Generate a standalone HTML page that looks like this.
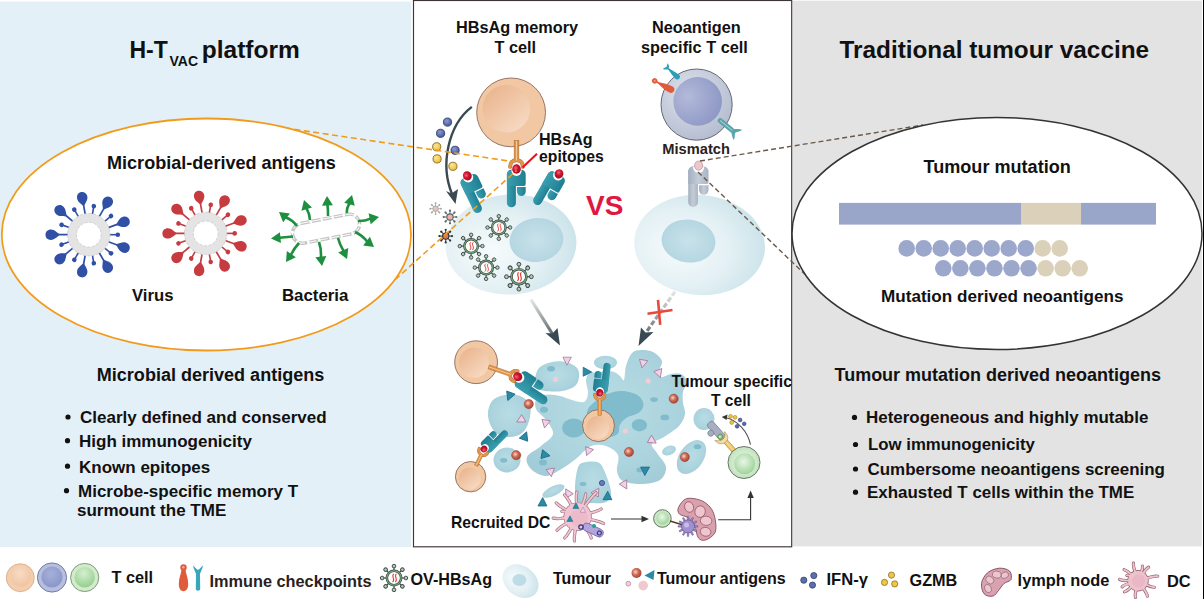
<!DOCTYPE html>
<html><head><meta charset="utf-8">
<style>
html,body{margin:0;padding:0;background:#fff;}
body{width:1204px;height:599px;overflow:hidden;position:relative;}
svg{position:absolute;left:0;top:0;}
text{font-family:"Liberation Sans",sans-serif;font-weight:bold;fill:#111;}
</style></head><body>
<svg width="1204" height="599" viewBox="0 0 1204 599">
<defs>
<linearGradient id="gPeachN" x1="0.15" y1="0.1" x2="0.8" y2="0.9"><stop offset="0" stop-color="#ebb690"/><stop offset="1" stop-color="#f6d8c0"/></linearGradient>
<radialGradient id="gPeachO" cx="0.5" cy="0.5" r="0.5"><stop offset="0.7" stop-color="#f3cca9"/><stop offset="1" stop-color="#efc29d"/></radialGradient>
<radialGradient id="gTum" cx="0.35" cy="0.55" r="0.65"><stop offset="0" stop-color="#f7fbfc"/><stop offset="0.6" stop-color="#e3f0f4"/><stop offset="1" stop-color="#cde4eb"/></radialGradient>
<radialGradient id="gTumN" cx="0.5" cy="0.5" r="0.5"><stop offset="0" stop-color="#c8e2ea"/><stop offset="1" stop-color="#b5d6e1"/></radialGradient>
<radialGradient id="gBlueO" cx="0.4" cy="0.35" r="0.7"><stop offset="0" stop-color="#dfe3ec"/><stop offset="1" stop-color="#b3bbcf"/></radialGradient>
<radialGradient id="gBlueN" cx="0.3" cy="0.4" r="0.7"><stop offset="0" stop-color="#b3b9d9"/><stop offset="1" stop-color="#8f99c6"/></radialGradient>
<radialGradient id="gGreenO" cx="0.5" cy="0.5" r="0.5"><stop offset="0.6" stop-color="#d5ecd0"/><stop offset="1" stop-color="#c2e2bd"/></radialGradient>
<radialGradient id="gGreenN" cx="0.45" cy="0.4" r="0.6"><stop offset="0" stop-color="#e9f6e6"/><stop offset="1" stop-color="#9ed49a"/></radialGradient>
<linearGradient id="gTeal" x1="0" y1="0" x2="1" y2="0"><stop offset="0" stop-color="#3b9fb0"/><stop offset="1" stop-color="#1f7f92"/></linearGradient>
<radialGradient id="gRed" cx="0.4" cy="0.4" r="0.6"><stop offset="0" stop-color="#f06a7a"/><stop offset="0.5" stop-color="#d0122f"/><stop offset="1" stop-color="#a80c22"/></radialGradient>
<radialGradient id="gAg" cx="0.4" cy="0.4" r="0.6"><stop offset="0" stop-color="#f4d7cc"/><stop offset="0.5" stop-color="#d06a55"/><stop offset="1" stop-color="#a84534"/></radialGradient>
<linearGradient id="gArr" x1="0" y1="0" x2="0" y2="1"><stop offset="0" stop-color="#e8e8e8"/><stop offset="1" stop-color="#5f676c"/></linearGradient><radialGradient id="gLegP" cx="0.45" cy="0.35" r="0.7"><stop offset="0" stop-color="#f8dcc6"/><stop offset="1" stop-color="#f0c29e"/></radialGradient><radialGradient id="gLegB" cx="0.45" cy="0.35" r="0.7"><stop offset="0" stop-color="#a6b0da"/><stop offset="1" stop-color="#8794c6"/></radialGradient><radialGradient id="gLegG" cx="0.45" cy="0.3" r="0.7"><stop offset="0" stop-color="#d6efd0"/><stop offset="1" stop-color="#94cf8e"/></radialGradient><linearGradient id="gGreyM" x1="0" y1="0" x2="1" y2="0"><stop offset="0" stop-color="#a4aebf"/><stop offset="0.5" stop-color="#c4ccd8"/><stop offset="1" stop-color="#aab4c4"/></linearGradient><radialGradient id="gDotB" cx="0.4" cy="0.35" r="0.65"><stop offset="0" stop-color="#8a9ad0"/><stop offset="1" stop-color="#44589e"/></radialGradient><radialGradient id="gDotY" cx="0.4" cy="0.35" r="0.65"><stop offset="0" stop-color="#fbe7a0"/><stop offset="1" stop-color="#eebd30"/></radialGradient><radialGradient id="gMass" cx="0.5" cy="0.45" r="0.6"><stop offset="0" stop-color="#b8dce4"/><stop offset="0.7" stop-color="#acd4de"/><stop offset="1" stop-color="#a2ccd7"/></radialGradient>
</defs>
<rect x="0" y="1.5" width="411.3" height="545.5" fill="#e4f0f8"/>
<rect x="792.5" y="0.7" width="409.3" height="545.7" fill="#e3e3e3"/>
<rect x="413.5" y="0.5" width="378.2" height="546.3" fill="#fff" stroke="#3e3636" stroke-width="1.15"/>
<rect x="1203" y="0" width="1" height="599" fill="#000"/>
<g id="gc"><ellipse cx="511" cy="244.5" rx="65.5" ry="50" fill="url(#gTum)" transform="rotate(-4 511 244.5)"/><ellipse cx="536.5" cy="240" rx="27" ry="22" fill="url(#gTumN)" transform="rotate(-8 536.5 240)"/><ellipse cx="699.6" cy="245" rx="65.5" ry="50" fill="url(#gTum)" transform="rotate(5 699.6 245)"/><ellipse cx="688.5" cy="241" rx="27" ry="21.5" fill="url(#gTumN)" transform="rotate(8 688.5 241)"/><g transform="translate(498.8,227.5) scale(1.0)"><g transform="rotate(0)"><rect x="6.5" y="-0.55" width="3.6" height="1.1" fill="#3e4a45"/><circle cx="11.3" cy="0" r="1.75" fill="#b4c8b8" stroke="#3e4a45" stroke-width="0.9"/></g><g transform="rotate(45)"><rect x="6.5" y="-0.55" width="3.6" height="1.1" fill="#3e4a45"/><circle cx="11.3" cy="0" r="1.75" fill="#b4c8b8" stroke="#3e4a45" stroke-width="0.9"/></g><g transform="rotate(90)"><rect x="6.5" y="-0.55" width="3.6" height="1.1" fill="#3e4a45"/><circle cx="11.3" cy="0" r="1.75" fill="#b4c8b8" stroke="#3e4a45" stroke-width="0.9"/></g><g transform="rotate(135)"><rect x="6.5" y="-0.55" width="3.6" height="1.1" fill="#3e4a45"/><circle cx="11.3" cy="0" r="1.75" fill="#b4c8b8" stroke="#3e4a45" stroke-width="0.9"/></g><g transform="rotate(180)"><rect x="6.5" y="-0.55" width="3.6" height="1.1" fill="#3e4a45"/><circle cx="11.3" cy="0" r="1.75" fill="#b4c8b8" stroke="#3e4a45" stroke-width="0.9"/></g><g transform="rotate(225)"><rect x="6.5" y="-0.55" width="3.6" height="1.1" fill="#3e4a45"/><circle cx="11.3" cy="0" r="1.75" fill="#b4c8b8" stroke="#3e4a45" stroke-width="0.9"/></g><g transform="rotate(270)"><rect x="6.5" y="-0.55" width="3.6" height="1.1" fill="#3e4a45"/><circle cx="11.3" cy="0" r="1.75" fill="#b4c8b8" stroke="#3e4a45" stroke-width="0.9"/></g><g transform="rotate(315)"><rect x="6.5" y="-0.55" width="3.6" height="1.1" fill="#3e4a45"/><circle cx="11.3" cy="0" r="1.75" fill="#b4c8b8" stroke="#3e4a45" stroke-width="0.9"/></g><circle r="6.8" fill="#fff" stroke="#3e4a45" stroke-width="2.4"/><circle r="6.8" fill="none" stroke="#74a882" stroke-width="1.1"/><path d="M-0.2,-3.9 C-3.2,-1.9 1.8,1.1 -1.3,3.9 M2.3,-3.9 C-0.6,-1.9 4.3,1.1 1.3,3.9" fill="none" stroke="#e23a32" stroke-width="1"/></g><g transform="translate(471.1,246.1) scale(1.0)"><g transform="rotate(0)"><rect x="6.5" y="-0.55" width="3.6" height="1.1" fill="#3e4a45"/><circle cx="11.3" cy="0" r="1.75" fill="#b4c8b8" stroke="#3e4a45" stroke-width="0.9"/></g><g transform="rotate(45)"><rect x="6.5" y="-0.55" width="3.6" height="1.1" fill="#3e4a45"/><circle cx="11.3" cy="0" r="1.75" fill="#b4c8b8" stroke="#3e4a45" stroke-width="0.9"/></g><g transform="rotate(90)"><rect x="6.5" y="-0.55" width="3.6" height="1.1" fill="#3e4a45"/><circle cx="11.3" cy="0" r="1.75" fill="#b4c8b8" stroke="#3e4a45" stroke-width="0.9"/></g><g transform="rotate(135)"><rect x="6.5" y="-0.55" width="3.6" height="1.1" fill="#3e4a45"/><circle cx="11.3" cy="0" r="1.75" fill="#b4c8b8" stroke="#3e4a45" stroke-width="0.9"/></g><g transform="rotate(180)"><rect x="6.5" y="-0.55" width="3.6" height="1.1" fill="#3e4a45"/><circle cx="11.3" cy="0" r="1.75" fill="#b4c8b8" stroke="#3e4a45" stroke-width="0.9"/></g><g transform="rotate(225)"><rect x="6.5" y="-0.55" width="3.6" height="1.1" fill="#3e4a45"/><circle cx="11.3" cy="0" r="1.75" fill="#b4c8b8" stroke="#3e4a45" stroke-width="0.9"/></g><g transform="rotate(270)"><rect x="6.5" y="-0.55" width="3.6" height="1.1" fill="#3e4a45"/><circle cx="11.3" cy="0" r="1.75" fill="#b4c8b8" stroke="#3e4a45" stroke-width="0.9"/></g><g transform="rotate(315)"><rect x="6.5" y="-0.55" width="3.6" height="1.1" fill="#3e4a45"/><circle cx="11.3" cy="0" r="1.75" fill="#b4c8b8" stroke="#3e4a45" stroke-width="0.9"/></g><circle r="6.8" fill="#fff" stroke="#3e4a45" stroke-width="2.4"/><circle r="6.8" fill="none" stroke="#74a882" stroke-width="1.1"/><path d="M-0.2,-3.9 C-3.2,-1.9 1.8,1.1 -1.3,3.9 M2.3,-3.9 C-0.6,-1.9 4.3,1.1 1.3,3.9" fill="none" stroke="#e23a32" stroke-width="1"/></g><g transform="translate(486.1,267.6) scale(1.0)"><g transform="rotate(0)"><rect x="6.5" y="-0.55" width="3.6" height="1.1" fill="#3e4a45"/><circle cx="11.3" cy="0" r="1.75" fill="#b4c8b8" stroke="#3e4a45" stroke-width="0.9"/></g><g transform="rotate(45)"><rect x="6.5" y="-0.55" width="3.6" height="1.1" fill="#3e4a45"/><circle cx="11.3" cy="0" r="1.75" fill="#b4c8b8" stroke="#3e4a45" stroke-width="0.9"/></g><g transform="rotate(90)"><rect x="6.5" y="-0.55" width="3.6" height="1.1" fill="#3e4a45"/><circle cx="11.3" cy="0" r="1.75" fill="#b4c8b8" stroke="#3e4a45" stroke-width="0.9"/></g><g transform="rotate(135)"><rect x="6.5" y="-0.55" width="3.6" height="1.1" fill="#3e4a45"/><circle cx="11.3" cy="0" r="1.75" fill="#b4c8b8" stroke="#3e4a45" stroke-width="0.9"/></g><g transform="rotate(180)"><rect x="6.5" y="-0.55" width="3.6" height="1.1" fill="#3e4a45"/><circle cx="11.3" cy="0" r="1.75" fill="#b4c8b8" stroke="#3e4a45" stroke-width="0.9"/></g><g transform="rotate(225)"><rect x="6.5" y="-0.55" width="3.6" height="1.1" fill="#3e4a45"/><circle cx="11.3" cy="0" r="1.75" fill="#b4c8b8" stroke="#3e4a45" stroke-width="0.9"/></g><g transform="rotate(270)"><rect x="6.5" y="-0.55" width="3.6" height="1.1" fill="#3e4a45"/><circle cx="11.3" cy="0" r="1.75" fill="#b4c8b8" stroke="#3e4a45" stroke-width="0.9"/></g><g transform="rotate(315)"><rect x="6.5" y="-0.55" width="3.6" height="1.1" fill="#3e4a45"/><circle cx="11.3" cy="0" r="1.75" fill="#b4c8b8" stroke="#3e4a45" stroke-width="0.9"/></g><circle r="6.8" fill="#fff" stroke="#3e4a45" stroke-width="2.4"/><circle r="6.8" fill="none" stroke="#74a882" stroke-width="1.1"/><path d="M-0.2,-3.9 C-3.2,-1.9 1.8,1.1 -1.3,3.9 M2.3,-3.9 C-0.6,-1.9 4.3,1.1 1.3,3.9" fill="none" stroke="#e23a32" stroke-width="1"/></g><g transform="translate(518.9,276.7) scale(1.1)"><g transform="rotate(0)"><rect x="6.5" y="-0.55" width="3.6" height="1.1" fill="#3e4a45"/><circle cx="11.3" cy="0" r="1.75" fill="#b4c8b8" stroke="#3e4a45" stroke-width="0.9"/></g><g transform="rotate(45)"><rect x="6.5" y="-0.55" width="3.6" height="1.1" fill="#3e4a45"/><circle cx="11.3" cy="0" r="1.75" fill="#b4c8b8" stroke="#3e4a45" stroke-width="0.9"/></g><g transform="rotate(90)"><rect x="6.5" y="-0.55" width="3.6" height="1.1" fill="#3e4a45"/><circle cx="11.3" cy="0" r="1.75" fill="#b4c8b8" stroke="#3e4a45" stroke-width="0.9"/></g><g transform="rotate(135)"><rect x="6.5" y="-0.55" width="3.6" height="1.1" fill="#3e4a45"/><circle cx="11.3" cy="0" r="1.75" fill="#b4c8b8" stroke="#3e4a45" stroke-width="0.9"/></g><g transform="rotate(180)"><rect x="6.5" y="-0.55" width="3.6" height="1.1" fill="#3e4a45"/><circle cx="11.3" cy="0" r="1.75" fill="#b4c8b8" stroke="#3e4a45" stroke-width="0.9"/></g><g transform="rotate(225)"><rect x="6.5" y="-0.55" width="3.6" height="1.1" fill="#3e4a45"/><circle cx="11.3" cy="0" r="1.75" fill="#b4c8b8" stroke="#3e4a45" stroke-width="0.9"/></g><g transform="rotate(270)"><rect x="6.5" y="-0.55" width="3.6" height="1.1" fill="#3e4a45"/><circle cx="11.3" cy="0" r="1.75" fill="#b4c8b8" stroke="#3e4a45" stroke-width="0.9"/></g><g transform="rotate(315)"><rect x="6.5" y="-0.55" width="3.6" height="1.1" fill="#3e4a45"/><circle cx="11.3" cy="0" r="1.75" fill="#b4c8b8" stroke="#3e4a45" stroke-width="0.9"/></g><circle r="6.8" fill="#fff" stroke="#3e4a45" stroke-width="2.4"/><circle r="6.8" fill="none" stroke="#74a882" stroke-width="1.1"/><path d="M-0.2,-3.9 C-3.2,-1.9 1.8,1.1 -1.3,3.9 M2.3,-3.9 C-0.6,-1.9 4.3,1.1 1.3,3.9" fill="none" stroke="#e23a32" stroke-width="1"/></g><g transform="translate(435.6,208.7) scale(0.6)"><g transform="rotate(0)"><rect x="4" y="-0.7" width="4.5" height="1.4" fill="#a0aaa6"/><circle cx="9" r="1.6" fill="#a0aaa6"/></g><g transform="rotate(45)"><rect x="4" y="-0.7" width="4.5" height="1.4" fill="#a0aaa6"/><circle cx="9" r="1.6" fill="#a0aaa6"/></g><g transform="rotate(90)"><rect x="4" y="-0.7" width="4.5" height="1.4" fill="#a0aaa6"/><circle cx="9" r="1.6" fill="#a0aaa6"/></g><g transform="rotate(135)"><rect x="4" y="-0.7" width="4.5" height="1.4" fill="#a0aaa6"/><circle cx="9" r="1.6" fill="#a0aaa6"/></g><g transform="rotate(180)"><rect x="4" y="-0.7" width="4.5" height="1.4" fill="#a0aaa6"/><circle cx="9" r="1.6" fill="#a0aaa6"/></g><g transform="rotate(225)"><rect x="4" y="-0.7" width="4.5" height="1.4" fill="#a0aaa6"/><circle cx="9" r="1.6" fill="#a0aaa6"/></g><g transform="rotate(270)"><rect x="4" y="-0.7" width="4.5" height="1.4" fill="#a0aaa6"/><circle cx="9" r="1.6" fill="#a0aaa6"/></g><g transform="rotate(315)"><rect x="4" y="-0.7" width="4.5" height="1.4" fill="#a0aaa6"/><circle cx="9" r="1.6" fill="#a0aaa6"/></g><circle r="4.5" fill="#f0c0c0" stroke="#a0aaa6" stroke-width="1.6"/></g><g transform="translate(450,217) scale(0.7)"><g transform="rotate(0)"><rect x="4" y="-0.7" width="4.5" height="1.4" fill="#5a6a64"/><circle cx="9" r="1.6" fill="#5a6a64"/></g><g transform="rotate(45)"><rect x="4" y="-0.7" width="4.5" height="1.4" fill="#5a6a64"/><circle cx="9" r="1.6" fill="#5a6a64"/></g><g transform="rotate(90)"><rect x="4" y="-0.7" width="4.5" height="1.4" fill="#5a6a64"/><circle cx="9" r="1.6" fill="#5a6a64"/></g><g transform="rotate(135)"><rect x="4" y="-0.7" width="4.5" height="1.4" fill="#5a6a64"/><circle cx="9" r="1.6" fill="#5a6a64"/></g><g transform="rotate(180)"><rect x="4" y="-0.7" width="4.5" height="1.4" fill="#5a6a64"/><circle cx="9" r="1.6" fill="#5a6a64"/></g><g transform="rotate(225)"><rect x="4" y="-0.7" width="4.5" height="1.4" fill="#5a6a64"/><circle cx="9" r="1.6" fill="#5a6a64"/></g><g transform="rotate(270)"><rect x="4" y="-0.7" width="4.5" height="1.4" fill="#5a6a64"/><circle cx="9" r="1.6" fill="#5a6a64"/></g><g transform="rotate(315)"><rect x="4" y="-0.7" width="4.5" height="1.4" fill="#5a6a64"/><circle cx="9" r="1.6" fill="#5a6a64"/></g><circle r="4.5" fill="#eeb0b0" stroke="#5a6a64" stroke-width="1.6"/></g><g transform="translate(445.7,236.1) scale(0.7)"><g transform="rotate(0)"><rect x="4" y="-0.7" width="4.5" height="1.4" fill="#333"/><circle cx="9" r="1.6" fill="#333"/></g><g transform="rotate(45)"><rect x="4" y="-0.7" width="4.5" height="1.4" fill="#333"/><circle cx="9" r="1.6" fill="#333"/></g><g transform="rotate(90)"><rect x="4" y="-0.7" width="4.5" height="1.4" fill="#333"/><circle cx="9" r="1.6" fill="#333"/></g><g transform="rotate(135)"><rect x="4" y="-0.7" width="4.5" height="1.4" fill="#333"/><circle cx="9" r="1.6" fill="#333"/></g><g transform="rotate(180)"><rect x="4" y="-0.7" width="4.5" height="1.4" fill="#333"/><circle cx="9" r="1.6" fill="#333"/></g><g transform="rotate(225)"><rect x="4" y="-0.7" width="4.5" height="1.4" fill="#333"/><circle cx="9" r="1.6" fill="#333"/></g><g transform="rotate(270)"><rect x="4" y="-0.7" width="4.5" height="1.4" fill="#333"/><circle cx="9" r="1.6" fill="#333"/></g><g transform="rotate(315)"><rect x="4" y="-0.7" width="4.5" height="1.4" fill="#333"/><circle cx="9" r="1.6" fill="#333"/></g><circle r="4.5" fill="#e07a4a" stroke="#333" stroke-width="1.6"/></g><circle cx="511.1" cy="112.4" r="34.4" fill="#f2c7a3" stroke="#8a6a5a" stroke-width="0.9"/><circle cx="506.28" cy="108.79" r="23.8" fill="url(#gPeachN)"/><g transform="translate(516.5,169.4) rotate(0) scale(0.9)"><path d="M0,-10.5 C-3.5,-10 -7,-9 -7,-3 M0,-10.5 C3.5,-10 7,-9 7,-3" fill="none" stroke="#b06a2a" stroke-width="4.4" stroke-linecap="round"/><rect x="-2.6" y="-32" width="5.2" height="23" fill="#e0964a" stroke="#b06a2a" stroke-width="0.6"/><path d="M0,-10.5 C-3.5,-10 -7,-9 -7,-3 M0,-10.5 C3.5,-10 7,-9 7,-3" fill="none" stroke="#e0964a" stroke-width="3.4" stroke-linecap="round"/><line x1="0" y1="-31.5" x2="0" y2="-10" stroke="#f8d2a8" stroke-width="0.9"/></g><g transform="translate(467.7,176.5) rotate(-25.6) scale(1.0)"><rect x="-9.6" y="0" width="9" height="37.5" rx="4.4" fill="url(#gTeal)"/><path d="M-9.6,4.5 A4.5,4.5 0 0 1 -5.1,0 L4.7,0 A4.5,4.5 0 0 1 9.2,4.5 L9.2,14.5 A1.8,1.8 0 0 1 7.4,16.3 L-9.6,16.3 Z" fill="url(#gTeal)"/><path d="M0.4,17.3 L9.2,17.3 L9.2,21.8 A4.4,4.4 0 0 1 4.8,26.2 A4.4,4.4 0 0 1 0.4,21.8 Z" fill="url(#gTeal)"/><path d="M-5.2,0.5 A5.2,5.6 0 0 0 5.2,0.5 Z" fill="#fff"/><ellipse cx="0" cy="-0.8" rx="4.324000000000001" ry="4.7" fill="url(#gRed)"/></g><g transform="translate(516.5,169.8) rotate(0) scale(1.0)"><rect x="-9.6" y="0" width="9" height="37.5" rx="4.4" fill="url(#gTeal)"/><path d="M-9.6,4.5 A4.5,4.5 0 0 1 -5.1,0 L4.7,0 A4.5,4.5 0 0 1 9.2,4.5 L9.2,14.5 A1.8,1.8 0 0 1 7.4,16.3 L-9.6,16.3 Z" fill="url(#gTeal)"/><path d="M0.4,17.3 L9.2,17.3 L9.2,21.8 A4.4,4.4 0 0 1 4.8,26.2 A4.4,4.4 0 0 1 0.4,21.8 Z" fill="url(#gTeal)"/><path d="M-5.2,0.5 A5.2,5.6 0 0 0 5.2,0.5 Z" fill="#fff"/><ellipse cx="0" cy="-0.8" rx="4.324000000000001" ry="4.7" fill="url(#gRed)"/></g><g transform="translate(558.6,174.5) rotate(30) scale(1.0)"><rect x="-9.6" y="0" width="9" height="37.5" rx="4.4" fill="url(#gTeal)"/><path d="M-9.6,4.5 A4.5,4.5 0 0 1 -5.1,0 L4.7,0 A4.5,4.5 0 0 1 9.2,4.5 L9.2,14.5 A1.8,1.8 0 0 1 7.4,16.3 L-9.6,16.3 Z" fill="url(#gTeal)"/><path d="M0.4,17.3 L9.2,17.3 L9.2,21.8 A4.4,4.4 0 0 1 4.8,26.2 A4.4,4.4 0 0 1 0.4,21.8 Z" fill="url(#gTeal)"/><path d="M-5.2,0.5 A5.2,5.6 0 0 0 5.2,0.5 Z" fill="#fff"/><ellipse cx="0" cy="-0.8" rx="4.324000000000001" ry="4.7" fill="url(#gRed)"/></g><line x1="522.5" y1="167.4" x2="537" y2="153.8" stroke="#e8101e" stroke-width="2"/><circle cx="447.5" cy="122.1" r="4.1" fill="url(#gDotB)" stroke="#2a3560" stroke-width="0.8"/><circle cx="440.6" cy="133.3" r="4.1" fill="url(#gDotB)" stroke="#2a3560" stroke-width="0.8"/><circle cx="455.1" cy="150.3" r="4.1" fill="url(#gDotB)" stroke="#2a3560" stroke-width="0.8"/><circle cx="436.7" cy="146.8" r="4.1" fill="url(#gDotY)" stroke="#7a6020" stroke-width="0.8"/><circle cx="437.1" cy="158.9" r="4.1" fill="url(#gDotY)" stroke="#7a6020" stroke-width="0.8"/><circle cx="452.9" cy="166.3" r="4.1" fill="url(#gDotY)" stroke="#7a6020" stroke-width="0.8"/><path d="M471.8,106.9 C448,125 440,165 452,194" fill="none" stroke="#3b4a52" stroke-width="2.4"/><path d="M455.5,204 L446,191 L451.5,193.5 L458,189 Z" fill="#3b4a52"/><circle cx="696.6" cy="104.6" r="35.6" fill="url(#gBlueO)" stroke="#555a66" stroke-width="0.9"/><circle cx="697.67" cy="101.4" r="24.3" fill="url(#gBlueN)"/><g transform="translate(671,89.5) rotate(-152)"><path d="M0,-3.4 C5,-3.6 10,-2.2 14,-0.9 L17,-0.9 L17,0.9 L14,0.9 C10,2.2 5,3.6 0,3.4 C-2.4,3.2 -3.4,1.8 -3.4,0 C-3.4,-1.8 -2.4,-3.2 0,-3.4 Z" fill="#e05a3c"/><circle cx="18.5" cy="0" r="2.7" fill="#e05a3c"/><circle cx="18.5" cy="0" r="1.1" fill="#f29a80"/></g><g transform="translate(677.5,77) rotate(-138)"><path d="M0,-2.6 C4,-2.6 8,-1.5 11,-0.9 L12.5,-0.9 C13.5,-2.6 15,-3.6 16.5,-3.6 L15.5,-1.3 L14.8,0 L15.5,1.3 L16.5,3.6 C15,3.6 13.5,2.6 12.5,0.9 L11,0.9 C8,1.5 4,2.6 0,2.6 C-1.8,2.4 -2.4,1.3 -2.4,0 C-2.4,-1.3 -1.8,-2.4 0,-2.6 Z" fill="#2aa0b8"/></g><g transform="translate(719.3,119.9) rotate(39)"><rect x="-1" y="-2.2" width="19" height="4.4" rx="2" fill="#5aa6ae" stroke="#4a949c" stroke-width="0.5"/><line x1="1" y1="0" x2="17" y2="0" stroke="#cfe6e8" stroke-width="0.7"/><path d="M17,-2.2 C19,-3 21,-6 24,-6.5 C23.5,-4.5 22.5,-3 21.5,-2 L20.5,0 L21.5,2 C22.5,3 23.5,4.5 24,6.5 C21,6 19,3 17,2.2 Z" fill="#5aa6ae"/></g><g transform="translate(698.6,166.5) rotate(0) scale(1.08)"><rect x="-9.6" y="0" width="9" height="37.5" rx="4.4" fill="url(#gGreyM)"/><path d="M-9.6,4.5 A4.5,4.5 0 0 1 -5.1,0 L4.7,0 A4.5,4.5 0 0 1 9.2,4.5 L9.2,14.5 A1.8,1.8 0 0 1 7.4,16.3 L-9.6,16.3 Z" fill="url(#gGreyM)"/><path d="M0.4,17.3 L9.2,17.3 L9.2,21.8 A4.4,4.4 0 0 1 4.8,26.2 A4.4,4.4 0 0 1 0.4,21.8 Z" fill="url(#gGreyM)"/><path d="M-5.2,0.5 A5.2,5.6 0 0 0 5.2,0.5 Z" fill="#fff"/><ellipse cx="0" cy="-0.8" rx="3.956" ry="4.3" fill="#efc6ce"/></g><ellipse cx="698.6" cy="165.6" rx="4" ry="4.6" fill="none" stroke="#b88a94" stroke-width="0.6"/></g>
<g id="gcb"><defs><linearGradient id="gArrR" x1="0" y1="0" x2="0" y2="1"><stop offset="0" stop-color="#e6e6e6"/><stop offset="1" stop-color="#707a80"/></linearGradient></defs><path d="M531,299.5 L552.5,334" stroke="url(#gArr)" stroke-width="3.2" fill="none"/><path d="M560,345.5 L545.5,333 L552.5,333.5 L557.5,328 Z" fill="#394953"/><path d="M675,291.5 L647,331" stroke="url(#gArrR)" stroke-width="3.2" fill="none" stroke-dasharray="5 2.2"/><path d="M638.5,346 L641,327.5 L645.5,332.5 L653.5,332 Z" fill="#394953"/><path d="M647.5,313.8 L672.5,310 M658,299.8 L660.2,324.8" stroke="#e84a3a" stroke-width="2.6"/><path d="M537,398 C539,395.58 544.17,394.83 548,394.5 C551.83,394.17 556,395.08 560,396 C564,396.92 568,399 572,400 C576,401 581.33,403.17 584,402 C586.67,400.83 587.67,396.67 588,393 C588.33,389.33 585.67,383.5 586,380 C586.33,376.5 588.17,373.17 590,372 C591.83,370.83 594.5,373.17 597,373 C599.5,372.83 602.17,371.17 605,371 C607.83,370.83 611.5,371.17 614,372 C616.5,372.83 618.33,374.67 620,376 C621.67,377.33 623,381.67 624,380 C625,378.33 624.67,370.5 626,366 C627.33,361.5 629.5,355.67 632,353 C634.5,350.33 637.5,350.17 641,350 C644.5,349.83 649.5,350.17 653,352 C656.5,353.83 661,357.83 662,361 C663,364.17 659.17,368.33 659,371 C658.83,373.67 659,376.5 661,377 C663,377.5 667.67,374.5 671,374 C674.33,373.5 678.33,372.67 681,374 C683.67,375.33 686.67,379 687,382 C687.33,385 683.67,388.5 683,392 C682.33,395.5 682.67,399.33 683,403 C683.33,406.67 685.67,410.17 685,414 C684.33,417.83 682.5,422.17 679,426 C675.5,429.83 668.5,434 664,437 C659.5,440 653.17,441.33 652,444 C650.83,446.67 654.67,449.17 657,453 C659.33,456.83 665.5,462.5 666,467 C666.5,471.5 664.17,477.17 660,480 C655.83,482.83 647.17,483.83 641,484 C634.83,484.17 627,483.17 623,481 C619,478.83 617.83,475.33 617,471 C616.17,466.67 619.83,459.17 618,455 C616.17,450.83 610.5,447.5 606,446 C601.5,444.5 595.83,444 591,446 C586.17,448 581.67,454.33 577,458 C572.33,461.67 568.17,465 563,468 C557.83,471 551.33,475.83 546,476 C540.67,476.17 534.17,472.17 531,469 C527.83,465.83 525.33,460.83 527,457 C528.67,453.17 536.67,449.83 541,446 C545.33,442.17 552.17,438.33 553,434 C553.83,429.67 548.83,424.17 546,420 C543.17,415.83 537.5,412.67 536,409 C534.5,405.33 535,400.42 537,398 Z" fill="url(#gMass)"/><path d="M535,380 C535.33,376.67 536.17,371 539,368 C541.83,365 547.5,363 552,362 C556.5,361 561.83,361 566,362 C570.17,363 574.83,365.5 577,368 C579.17,370.5 579.33,374 579,377 C578.67,380 577.83,383.67 575,386 C572.17,388.33 567,390.17 562,391 C557,391.83 549.17,391.5 545,391 C540.83,390.5 538.67,389.83 537,388 C535.33,386.17 534.67,383.33 535,380 Z" fill="url(#gMass)"/><ellipse cx="605.5" cy="362.5" rx="11.5" ry="6.8" fill="url(#gMass)"/><path d="M488,416 C487.5,410.83 489.17,404.5 492,401 C494.83,397.5 500.33,395.83 505,395 C509.67,394.17 515.83,394.33 520,396 C524.17,397.67 528.5,400.83 530,405 C531.5,409.17 530.33,416.33 529,421 C527.67,425.67 525.33,430.33 522,433 C518.67,435.67 513.5,437.17 509,437 C504.5,436.83 498.5,435.5 495,432 C491.5,428.5 488.5,421.17 488,416 Z" fill="url(#gMass)"/><path d="M575,490 C574.83,484.83 575.83,475.5 577,471 C578.17,466.5 578.67,464.5 582,463 C585.33,461.5 593.33,460.83 597,462 C600.67,463.17 601.67,465 604,470 C606.33,475 610.67,486.67 611,492 C611.33,497.33 609.5,500.17 606,502 C602.5,503.83 594.67,503 590,503 C585.33,503 580.5,504.17 578,502 C575.5,499.83 575.17,495.17 575,490 Z" fill="url(#gMass)"/><ellipse cx="507" cy="460" rx="13.5" ry="12.5" fill="url(#gMass)"/><ellipse cx="553.4" cy="491" rx="12" ry="4.8" transform="rotate(-26 553.4 491)" fill="url(#gMass)"/><ellipse cx="691.5" cy="457" rx="12" ry="19" transform="rotate(35 691.5 457)" fill="url(#gMass)"/><ellipse cx="669" cy="450.5" rx="7.2" ry="4.5" transform="rotate(-20 669 450.5)" fill="url(#gMass)"/><ellipse cx="704" cy="419" rx="10.5" ry="11" fill="url(#gMass)"/><path d="M588.6,408 C591.03,404.07 597.35,399.22 602.6,396.4 C607.85,393.58 614.27,391.3 620.1,391.1 C625.93,390.9 633.7,392.97 637.6,395.2 C641.5,397.43 643.3,401.58 643.5,404.5 C643.7,407.42 641.53,410.55 638.8,412.7 C636.07,414.85 630.22,415.45 627.1,417.4 C623.98,419.35 621.65,421.67 620.1,424.4 C618.55,427.13 619.82,431.7 617.8,433.8 C615.78,435.9 611.63,437.3 608,437 C604.37,436.7 599.33,434.83 596,432 C592.67,429.17 589.23,424 588,420 C586.77,416 586.17,411.93 588.6,408 Z" fill="#80bccb"/><ellipse cx="573.7" cy="428" rx="11.5" ry="9.5" fill="#80bccb"/><ellipse cx="639.4" cy="425.2" rx="7.6" ry="6.2" fill="#80bccb"/><ellipse cx="654" cy="399.6" rx="3.8" ry="2.4" fill="#80bccb"/><ellipse cx="664.8" cy="417.4" rx="4.4" ry="2.9" fill="#80bccb"/><ellipse cx="551" cy="368.7" rx="4" ry="2.7" fill="#80bccb"/><ellipse cx="544" cy="409.8" rx="4" ry="3" fill="#80bccb"/><ellipse cx="503.7" cy="460.3" rx="3.6" ry="2.4" fill="#80bccb"/><ellipse cx="583" cy="484" rx="3.4" ry="2" fill="#80bccb"/><ellipse cx="697.5" cy="446.8" rx="3.8" ry="2.5" fill="#80bccb"/><ellipse cx="543" cy="462.6" rx="4" ry="3" fill="#80bccb"/><ellipse cx="639.6" cy="470" rx="3.2" ry="2.4" fill="#80bccb"/><circle cx="528.8" cy="404.1" r="4.6" fill="url(#gAg)" stroke="#9a4030" stroke-width="0.5"/><circle cx="629" cy="452" r="4.6" fill="url(#gAg)" stroke="#9a4030" stroke-width="0.5"/><circle cx="684.8" cy="457.1" r="4.6" fill="url(#gAg)" stroke="#9a4030" stroke-width="0.5"/><circle cx="673.7" cy="398.7" r="4.6" fill="url(#gAg)" stroke="#9a4030" stroke-width="0.5"/><circle cx="516.2" cy="455.2" r="4.6" fill="url(#gAg)" stroke="#9a4030" stroke-width="0.5"/><circle cx="555.5" cy="379.4" r="2.6" fill="#f2cdd6"/><circle cx="648.1" cy="380.8" r="2.6" fill="#f2cdd6"/><circle cx="625.3" cy="431" r="2.6" fill="#f2cdd6"/><path transform="translate(566.9,360.7) rotate(0) scale(1.0)" d="M-4,-3.5 L4.5,-3.5 L0,4.5 Z" fill="#efd2e6" stroke="#a8789a" stroke-width="0.8" stroke-linejoin="round"/><path transform="translate(642.8,363.4) rotate(10) scale(1.0)" d="M-4,-3.5 L4.5,-3.5 L0,4.5 Z" fill="#efd2e6" stroke="#a8789a" stroke-width="0.8" stroke-linejoin="round"/><path transform="translate(658.8,373.4) rotate(-20) scale(1.0)" d="M-4,-3.5 L4.5,-3.5 L0,4.5 Z" fill="#efd2e6" stroke="#a8789a" stroke-width="0.8" stroke-linejoin="round"/><path transform="translate(520.6,419.8) rotate(60) scale(1.0)" d="M-4,-3.5 L4.5,-3.5 L0,4.5 Z" fill="#efd2e6" stroke="#a8789a" stroke-width="0.8" stroke-linejoin="round"/><path transform="translate(545.3,423.5) rotate(10) scale(1.0)" d="M-4,-3.5 L4.5,-3.5 L0,4.5 Z" fill="#efd2e6" stroke="#a8789a" stroke-width="0.8" stroke-linejoin="round"/><path transform="translate(550.6,472.3) rotate(-10) scale(1.0)" d="M-4,-3.5 L4.5,-3.5 L0,4.5 Z" fill="#efd2e6" stroke="#a8789a" stroke-width="0.8" stroke-linejoin="round"/><path transform="translate(588.1,451.3) rotate(20) scale(1.0)" d="M-4,-3.5 L4.5,-3.5 L0,4.5 Z" fill="#efd2e6" stroke="#a8789a" stroke-width="0.8" stroke-linejoin="round"/><path transform="translate(652.3,440.8) rotate(-60) scale(1.0)" d="M-4,-3.5 L4.5,-3.5 L0,4.5 Z" fill="#efd2e6" stroke="#a8789a" stroke-width="0.8" stroke-linejoin="round"/><path transform="translate(624.5,485.1) rotate(-30) scale(1.0)" d="M-4,-3.5 L4.5,-3.5 L0,4.5 Z" fill="#efd2e6" stroke="#a8789a" stroke-width="0.8" stroke-linejoin="round"/><path transform="translate(568,492.8) rotate(150) scale(1.0)" d="M-4,-3.5 L4.5,-3.5 L0,4.5 Z" fill="#efd2e6" stroke="#a8789a" stroke-width="0.8" stroke-linejoin="round"/><path transform="translate(596.6,492) rotate(-150) scale(1.0)" d="M-4,-3.5 L4.5,-3.5 L0,4.5 Z" fill="#efd2e6" stroke="#a8789a" stroke-width="0.8" stroke-linejoin="round"/><path transform="translate(509.4,396) rotate(20) scale(1.05)" d="M-4,-3.5 L4.5,-3.5 L0,4.5 Z" fill="#2a8aa8" stroke="#1e6a84" stroke-width="0.8" stroke-linejoin="round"/><path transform="translate(586.9,372) rotate(-90) scale(1.05)" d="M-4,-3.5 L4.5,-3.5 L0,4.5 Z" fill="#2a8aa8" stroke="#1e6a84" stroke-width="0.8" stroke-linejoin="round"/><path transform="translate(525,436.3) rotate(200) scale(1.05)" d="M-4,-3.5 L4.5,-3.5 L0,4.5 Z" fill="#2a8aa8" stroke="#1e6a84" stroke-width="0.8" stroke-linejoin="round"/><path transform="translate(545.3,455) rotate(-80) scale(1.05)" d="M-4,-3.5 L4.5,-3.5 L0,4.5 Z" fill="#2a8aa8" stroke="#1e6a84" stroke-width="0.8" stroke-linejoin="round"/><path transform="translate(644.8,470.8) rotate(0) scale(1.05)" d="M-4,-3.5 L4.5,-3.5 L0,4.5 Z" fill="#2a8aa8" stroke="#1e6a84" stroke-width="0.8" stroke-linejoin="round"/><path transform="translate(542.7,502.3) rotate(180) scale(1.05)" d="M-4,-3.5 L4.5,-3.5 L0,4.5 Z" fill="#2a8aa8" stroke="#1e6a84" stroke-width="0.8" stroke-linejoin="round"/><path transform="translate(607.7,496) rotate(180) scale(1.05)" d="M-4,-3.5 L4.5,-3.5 L0,4.5 Z" fill="#2a8aa8" stroke="#1e6a84" stroke-width="0.8" stroke-linejoin="round"/><circle cx="476.1" cy="362.2" r="21.4" fill="#f2c7a3" stroke="#8a6a5a" stroke-width="0.9"/><circle cx="473.96" cy="362.84" r="15" fill="url(#gPeachN)"/><g transform="translate(518.2,377) rotate(-71) scale(0.78)"><path d="M0,-10.5 C-3.5,-10 -7,-9 -7,-3 M0,-10.5 C3.5,-10 7,-9 7,-3" fill="none" stroke="#b06a2a" stroke-width="4.4" stroke-linecap="round"/><rect x="-2.6" y="-40" width="5.2" height="31" fill="#e0964a" stroke="#b06a2a" stroke-width="0.6"/><path d="M0,-10.5 C-3.5,-10 -7,-9 -7,-3 M0,-10.5 C3.5,-10 7,-9 7,-3" fill="none" stroke="#e0964a" stroke-width="3.4" stroke-linecap="round"/><line x1="0" y1="-39.5" x2="0" y2="-10" stroke="#f8d2a8" stroke-width="0.9"/></g><g transform="translate(518.4,377.1) rotate(-56) scale(1.0)"><rect x="-9.6" y="0" width="9" height="37.5" rx="4.4" fill="url(#gTeal)"/><path d="M-9.6,4.5 A4.5,4.5 0 0 1 -5.1,0 L4.7,0 A4.5,4.5 0 0 1 9.2,4.5 L9.2,14.5 A1.8,1.8 0 0 1 7.4,16.3 L-9.6,16.3 Z" fill="url(#gTeal)"/><path d="M0.4,17.3 L9.2,17.3 L9.2,21.8 A4.4,4.4 0 0 1 4.8,26.2 A4.4,4.4 0 0 1 0.4,21.8 Z" fill="url(#gTeal)"/><path d="M-5.2,0.5 A5.2,5.6 0 0 0 5.2,0.5 Z" fill="#fff"/><ellipse cx="0" cy="-0.8" rx="4.324000000000001" ry="4.7" fill="url(#gRed)"/></g><circle cx="598.5" cy="425.6" r="16" fill="#f2c7a3" stroke="#8a6a5a" stroke-width="0.9"/><circle cx="597.7" cy="427.52" r="11.5" fill="url(#gPeachN)"/><g transform="translate(599.8,392.2) rotate(180) scale(0.72)"><path d="M0,-10.5 C-3.5,-10 -7,-9 -7,-3 M0,-10.5 C3.5,-10 7,-9 7,-3" fill="none" stroke="#b06a2a" stroke-width="4.4" stroke-linecap="round"/><rect x="-2.6" y="-32" width="5.2" height="23" fill="#e0964a" stroke="#b06a2a" stroke-width="0.6"/><path d="M0,-10.5 C-3.5,-10 -7,-9 -7,-3 M0,-10.5 C3.5,-10 7,-9 7,-3" fill="none" stroke="#e0964a" stroke-width="3.4" stroke-linecap="round"/><line x1="0" y1="-31.5" x2="0" y2="-10" stroke="#f8d2a8" stroke-width="0.9"/></g><g transform="translate(599.8,392.2) rotate(187) scale(0.8)"><rect x="-9.6" y="0" width="9" height="37.5" rx="4.4" fill="url(#gTeal)"/><path d="M-9.6,4.5 A4.5,4.5 0 0 1 -5.1,0 L4.7,0 A4.5,4.5 0 0 1 9.2,4.5 L9.2,14.5 A1.8,1.8 0 0 1 7.4,16.3 L-9.6,16.3 Z" fill="url(#gTeal)"/><path d="M0.4,17.3 L9.2,17.3 L9.2,21.8 A4.4,4.4 0 0 1 4.8,26.2 A4.4,4.4 0 0 1 0.4,21.8 Z" fill="url(#gTeal)"/><path d="M-5.2,0.5 A5.2,5.6 0 0 0 5.2,0.5 Z" fill="#fff"/><ellipse cx="0" cy="-0.8" rx="4.324000000000001" ry="4.7" fill="url(#gRed)"/></g><circle cx="470.6" cy="476.7" r="15.2" fill="#f2c7a3" stroke="#8a6a5a" stroke-width="0.9"/><circle cx="469.84" cy="478.52" r="11" fill="url(#gPeachN)"/><g transform="translate(484.4,448.6) rotate(-154) scale(0.68)"><path d="M0,-10.5 C-3.5,-10 -7,-9 -7,-3 M0,-10.5 C3.5,-10 7,-9 7,-3" fill="none" stroke="#b06a2a" stroke-width="4.4" stroke-linecap="round"/><rect x="-2.6" y="-28" width="5.2" height="19" fill="#e0964a" stroke="#b06a2a" stroke-width="0.6"/><path d="M0,-10.5 C-3.5,-10 -7,-9 -7,-3 M0,-10.5 C3.5,-10 7,-9 7,-3" fill="none" stroke="#e0964a" stroke-width="3.4" stroke-linecap="round"/><line x1="0" y1="-27.5" x2="0" y2="-10" stroke="#f8d2a8" stroke-width="0.9"/></g><g transform="translate(484.4,448.6) rotate(-135) scale(0.75)"><rect x="-9.6" y="0" width="9" height="37.5" rx="4.4" fill="url(#gTeal)"/><path d="M-9.6,4.5 A4.5,4.5 0 0 1 -5.1,0 L4.7,0 A4.5,4.5 0 0 1 9.2,4.5 L9.2,14.5 A1.8,1.8 0 0 1 7.4,16.3 L-9.6,16.3 Z" fill="url(#gTeal)"/><path d="M0.4,17.3 L9.2,17.3 L9.2,21.8 A4.4,4.4 0 0 1 4.8,26.2 A4.4,4.4 0 0 1 0.4,21.8 Z" fill="url(#gTeal)"/><path d="M-5.2,0.5 A5.2,5.6 0 0 0 5.2,0.5 Z" fill="#fff"/><ellipse cx="0" cy="-0.8" rx="4.324000000000001" ry="4.7" fill="url(#gRed)"/></g><path d="M750.5,444.6 C748,432 738,420 725,417.5" fill="none" stroke="#555" stroke-width="1.1"/><path d="M721.8,417 L727.5,414.5 L726.5,420 Z" fill="#333"/><circle cx="730.5" cy="416.3" r="1.9" fill="#f2c640" stroke="#8a7020" stroke-width="0.5"/><circle cx="735.1" cy="417.3" r="1.9" fill="#f2c640" stroke="#8a7020" stroke-width="0.5"/><circle cx="731.7" cy="422.5" r="1.9" fill="#f2c640" stroke="#8a7020" stroke-width="0.5"/><circle cx="740.1" cy="420" r="1.9" fill="#5a6aaa" stroke="#2a3560" stroke-width="0.5"/><circle cx="744.2" cy="423.8" r="1.9" fill="#5a6aaa" stroke="#2a3560" stroke-width="0.5"/><circle cx="737.1" cy="426.3" r="1.9" fill="#5a6aaa" stroke="#2a3560" stroke-width="0.5"/><g transform="translate(720,437.1) rotate(-41.8)"><rect x="-1" y="6" width="4.6" height="20" fill="#f0c868" stroke="#a08030" stroke-width="0.6"/><line x1="1.3" y1="7" x2="1.3" y2="25" stroke="#fbe6b0" stroke-width="0.8"/><rect x="-2.2" y="-18" width="7.4" height="22" rx="2.5" fill="#a6aec0" stroke="#6a7282" stroke-width="0.6"/><circle cx="-4.2" cy="-9" r="3" fill="#a6aec0" stroke="#6a7282" stroke-width="0.6"/><path d="M-6,-1 C-6.5,5 -2,7.5 1,7.5 C4.5,7.5 7.5,5 7,-1 C5.5,1.5 4,3.5 1,3.5 C-2,3.5 -4.5,1.5 -6,-1 Z" fill="#f6dba6" stroke="#b08a40" stroke-width="0.6"/><circle cx="0.5" cy="0" r="2.6" fill="#8cc884" stroke="#4a7a44" stroke-width="0.6"/><circle cx="0.2" cy="-0.3" r="1" fill="#d8f0d0"/></g><circle cx="744" cy="462.5" r="16" fill="url(#gGreenO)" stroke="#5a6a5a" stroke-width="0.9"/><circle cx="744.64" cy="463.78" r="10.5" fill="url(#gGreenN)"/><path d="M678.5,507.4 C679.65,504.85 682.7,499.92 686.3,498.7 C689.9,497.48 696.15,498.72 700.1,500.1 C704.05,501.48 707.55,504.1 710,507 C712.45,509.9 713.93,513.3 714.8,517.5 C715.67,521.7 716.73,528.45 715.2,532.2 C713.67,535.95 708.42,539.07 705.6,540 C702.78,540.93 700.13,540.22 698.3,537.8 C696.47,535.38 696.28,528.83 694.6,525.5 C692.92,522.17 690.73,519.72 688.2,517.8 C685.67,515.88 681.02,515.73 679.4,514 C677.78,512.27 677.35,509.95 678.5,507.4 Z" fill="#d9a0ae" stroke="#8a5060" stroke-width="0.9"/><ellipse cx="689.1" cy="507" rx="4.4" ry="5.4" transform="rotate(-20 689.1 507)" fill="#efc6d0" stroke="#8a5060" stroke-width="0.7"/><ellipse cx="700.1" cy="511.6" rx="5.2" ry="5.8" transform="rotate(15 700.1 511.6)" fill="#efc6d0" stroke="#8a5060" stroke-width="0.7"/><ellipse cx="706.1" cy="520.8" rx="5.8" ry="4.6" transform="rotate(5 706.1 520.8)" fill="#efc6d0" stroke="#8a5060" stroke-width="0.7"/><ellipse cx="705.6" cy="531.8" rx="5.4" ry="4.4" transform="rotate(10 705.6 531.8)" fill="#efc6d0" stroke="#8a5060" stroke-width="0.7"/><circle cx="662.4" cy="518.5" r="8.8" fill="url(#gGreenO)" stroke="#5a6a5a" stroke-width="0.9"/><circle cx="662.66" cy="518.24" r="6.4" fill="url(#gGreenN)"/><line x1="670" y1="521" x2="683" y2="525" stroke="#5a3a20" stroke-width="1.4"/><g transform="translate(688,526.4)"><g transform="rotate(0)"><path d="M0,-1.5 L10,-0.7 L10,0.7 L0,1.5 Z" fill="#9a8ac8" stroke="#5a4a80" stroke-width="0.4"/></g><g transform="rotate(30)"><path d="M0,-1.5 L10,-0.7 L10,0.7 L0,1.5 Z" fill="#9a8ac8" stroke="#5a4a80" stroke-width="0.4"/></g><g transform="rotate(60)"><path d="M0,-1.5 L10,-0.7 L10,0.7 L0,1.5 Z" fill="#9a8ac8" stroke="#5a4a80" stroke-width="0.4"/></g><g transform="rotate(90)"><path d="M0,-1.5 L10,-0.7 L10,0.7 L0,1.5 Z" fill="#9a8ac8" stroke="#5a4a80" stroke-width="0.4"/></g><g transform="rotate(120)"><path d="M0,-1.5 L10,-0.7 L10,0.7 L0,1.5 Z" fill="#9a8ac8" stroke="#5a4a80" stroke-width="0.4"/></g><g transform="rotate(150)"><path d="M0,-1.5 L10,-0.7 L10,0.7 L0,1.5 Z" fill="#9a8ac8" stroke="#5a4a80" stroke-width="0.4"/></g><g transform="rotate(180)"><path d="M0,-1.5 L10,-0.7 L10,0.7 L0,1.5 Z" fill="#9a8ac8" stroke="#5a4a80" stroke-width="0.4"/></g><g transform="rotate(210)"><path d="M0,-1.5 L10,-0.7 L10,0.7 L0,1.5 Z" fill="#9a8ac8" stroke="#5a4a80" stroke-width="0.4"/></g><g transform="rotate(240)"><path d="M0,-1.5 L10,-0.7 L10,0.7 L0,1.5 Z" fill="#9a8ac8" stroke="#5a4a80" stroke-width="0.4"/></g><g transform="rotate(270)"><path d="M0,-1.5 L10,-0.7 L10,0.7 L0,1.5 Z" fill="#9a8ac8" stroke="#5a4a80" stroke-width="0.4"/></g><g transform="rotate(300)"><path d="M0,-1.5 L10,-0.7 L10,0.7 L0,1.5 Z" fill="#9a8ac8" stroke="#5a4a80" stroke-width="0.4"/></g><g transform="rotate(330)"><path d="M0,-1.5 L10,-0.7 L10,0.7 L0,1.5 Z" fill="#9a8ac8" stroke="#5a4a80" stroke-width="0.4"/></g><circle r="6.5" fill="#a090d0" stroke="#5a4a80" stroke-width="0.6"/><circle cx="-1.5" cy="-1.5" r="2.5" fill="#c8bce8"/></g><path d="M611,519 L644,519" stroke="#333" stroke-width="1.1"/><path d="M649,519 L641.5,515.8 L641.5,522.2 Z" fill="#333"/><path d="M718.2,519.7 L750.6,519.7 L750.6,496" stroke="#333" stroke-width="1.1" fill="none"/><path d="M750.6,490.5 L747.4,498 L753.8,498 Z" fill="#333"/><g transform="translate(577.6,516.6)"><circle r="14.2" fill="#a0707e"/><g transform="rotate(-147.21)"><path d="M6.75,0 Q19.95,-1.5 25.41,0" fill="none" stroke="#a0707e" stroke-width="3.2" stroke-linecap="round"/><path d="M6.75,0 Q19.95,-1.5 25.41,0" fill="none" stroke="#f0c4d0" stroke-width="1.9" stroke-linecap="round"/></g><g transform="rotate(-121.04)"><path d="M6.75,0 Q19.94,1.5 25.38,0" fill="none" stroke="#a0707e" stroke-width="3.2" stroke-linecap="round"/><path d="M6.75,0 Q19.94,1.5 25.38,0" fill="none" stroke="#f0c4d0" stroke-width="1.9" stroke-linecap="round"/></g><g transform="rotate(-91.8)"><path d="M6.75,0 Q19.46,-1.5 24.41,0" fill="none" stroke="#a0707e" stroke-width="3.2" stroke-linecap="round"/><path d="M6.75,0 Q19.46,-1.5 24.41,0" fill="none" stroke="#f0c4d0" stroke-width="1.9" stroke-linecap="round"/></g><g transform="rotate(-70.41)"><path d="M6.75,0 Q19.28,1.5 24.05,0" fill="none" stroke="#a0707e" stroke-width="3.2" stroke-linecap="round"/><path d="M6.75,0 Q19.28,1.5 24.05,0" fill="none" stroke="#f0c4d0" stroke-width="1.9" stroke-linecap="round"/></g><g transform="rotate(-52.32)"><path d="M6.75,0 Q22.29,-1.5 30.08,0" fill="none" stroke="#a0707e" stroke-width="3.2" stroke-linecap="round"/><path d="M6.75,0 Q22.29,-1.5 30.08,0" fill="none" stroke="#f0c4d0" stroke-width="1.9" stroke-linecap="round"/></g><g transform="rotate(-17.87)"><path d="M6.75,0 Q19.62,1.5 24.74,0" fill="none" stroke="#a0707e" stroke-width="3.2" stroke-linecap="round"/><path d="M6.75,0 Q19.62,1.5 24.74,0" fill="none" stroke="#f0c4d0" stroke-width="1.9" stroke-linecap="round"/></g><g transform="rotate(14.79)"><path d="M6.75,0 Q20.66,-1.5 26.82,0" fill="none" stroke="#a0707e" stroke-width="3.2" stroke-linecap="round"/><path d="M6.75,0 Q20.66,-1.5 26.82,0" fill="none" stroke="#f0c4d0" stroke-width="1.9" stroke-linecap="round"/></g><g transform="rotate(41.73)"><path d="M6.75,0 Q21.62,1.5 28.75,0" fill="none" stroke="#a0707e" stroke-width="3.2" stroke-linecap="round"/><path d="M6.75,0 Q21.62,1.5 28.75,0" fill="none" stroke="#f0c4d0" stroke-width="1.9" stroke-linecap="round"/></g><g transform="rotate(57.4)"><path d="M6.75,0 Q19.93,-1.5 25.35,0" fill="none" stroke="#a0707e" stroke-width="3.2" stroke-linecap="round"/><path d="M6.75,0 Q19.93,-1.5 25.35,0" fill="none" stroke="#f0c4d0" stroke-width="1.9" stroke-linecap="round"/></g><g transform="rotate(97.18)"><path d="M6.75,0 Q19.55,1.5 24.6,0" fill="none" stroke="#a0707e" stroke-width="3.2" stroke-linecap="round"/><path d="M6.75,0 Q19.55,1.5 24.6,0" fill="none" stroke="#f0c4d0" stroke-width="1.9" stroke-linecap="round"/></g><g transform="rotate(121.3)"><path d="M6.75,0 Q19.74,-1.5 24.98,0" fill="none" stroke="#a0707e" stroke-width="3.2" stroke-linecap="round"/><path d="M6.75,0 Q19.74,-1.5 24.98,0" fill="none" stroke="#f0c4d0" stroke-width="1.9" stroke-linecap="round"/></g><g transform="rotate(146.43)"><path d="M6.75,0 Q19.59,1.5 24.68,0" fill="none" stroke="#a0707e" stroke-width="3.2" stroke-linecap="round"/><path d="M6.75,0 Q19.59,1.5 24.68,0" fill="none" stroke="#f0c4d0" stroke-width="1.9" stroke-linecap="round"/></g><g transform="rotate(176.4)"><path d="M6.75,0 Q19.48,-1.5 24.45,0" fill="none" stroke="#a0707e" stroke-width="3.2" stroke-linecap="round"/><path d="M6.75,0 Q19.48,-1.5 24.45,0" fill="none" stroke="#f0c4d0" stroke-width="1.9" stroke-linecap="round"/></g><g transform="rotate(-161.46)"><path d="M6.75,0 Q15.56,1.5 16.61,0" fill="none" stroke="#a0707e" stroke-width="3.2" stroke-linecap="round"/><path d="M6.75,0 Q15.56,1.5 16.61,0" fill="none" stroke="#f0c4d0" stroke-width="1.9" stroke-linecap="round"/></g><circle r="13.5" fill="#f0c4d0"/></g><circle cx="579" cy="518" r="9" fill="#e8b0c0" opacity="0.5"/><path transform="translate(576,506) rotate(180) scale(0.7)" d="M-4,-3.5 L4.5,-3.5 L0,4.5 Z" fill="#2a8aa8" stroke="#1e6a84" stroke-width="0.8" stroke-linejoin="round"/><path transform="translate(570,519) rotate(180) scale(0.7)" d="M-4,-3.5 L4.5,-3.5 L0,4.5 Z" fill="#2a8aa8" stroke="#1e6a84" stroke-width="0.8" stroke-linejoin="round"/><path transform="translate(583,510) rotate(180) scale(0.65)" d="M-4,-3.5 L4.5,-3.5 L0,4.5 Z" fill="#efd2e6" stroke="#a8789a" stroke-width="0.8" stroke-linejoin="round"/><g transform="translate(593,530) rotate(25)"><rect x="-11" y="-4" width="22" height="8" rx="4" fill="#b4a4dc" stroke="#6a5a9a" stroke-width="0.7"/><circle cx="7" cy="0" r="2" fill="none" stroke="#2a3a8a" stroke-width="1.1"/></g><circle cx="581" cy="527" r="2.2" fill="none" stroke="#2a3a8a" stroke-width="1.2"/><circle cx="594" cy="526" r="2" fill="#2a9aa0"/><circle cx="602" cy="483" r="2.6" fill="#6a7ac0" stroke="#2a3a7a" stroke-width="0.7"/></g>
<g id="gd"><path d="M285,128 L511,161.3" stroke="#f29b1a" stroke-width="1.6" stroke-dasharray="6 3.5" fill="none"/><path d="M388,286 L516.5,170.5" stroke="#f29b1a" stroke-width="1.6" stroke-dasharray="6 3.5" fill="none"/><path d="M700,161 L923,125" stroke="#6a5a4a" stroke-width="1.4" stroke-dasharray="5 3" fill="none"/><path d="M698,172 L812,281" stroke="#6a5a4a" stroke-width="1.4" stroke-dasharray="5 3" fill="none"/></g>
<ellipse cx="206.4" cy="234.5" rx="204.6" ry="116" fill="#fff" stroke="#f29b1a" stroke-width="1.8"/>
<ellipse cx="997" cy="233.5" rx="205" ry="116" fill="#fff" stroke="#333" stroke-width="1.5"/>
<g id="gl"><g transform="translate(88.8,234.7)"><path transform="rotate(-100)" d="M20,-0.85 L29.5,-0.85 C32,-2 34,-5.2 37.8,-5.2 C41.3,-5.2 43.3,-2.8 43.3,0 C43.3,2.8 41.3,5.2 37.8,5.2 C34,5.2 32,2 29.5,0.85 L20,0.85 Z" fill="#2f50a6"/><g transform="rotate(-80)"><rect x="20" y="-0.8" width="8" height="1.6" fill="#2f50a6"/><circle cx="29" cy="0" r="2.3" fill="#2f50a6"/></g><path transform="rotate(-60)" d="M20,-0.85 L29.5,-0.85 C32,-2 34,-5.2 37.8,-5.2 C41.3,-5.2 43.3,-2.8 43.3,0 C43.3,2.8 41.3,5.2 37.8,5.2 C34,5.2 32,2 29.5,0.85 L20,0.85 Z" fill="#2f50a6"/><g transform="rotate(-40)"><rect x="20" y="-0.8" width="8" height="1.6" fill="#2f50a6"/><circle cx="29" cy="0" r="2.3" fill="#2f50a6"/></g><path transform="rotate(-20)" d="M20,-0.85 L29.5,-0.85 C32,-2 34,-5.2 37.8,-5.2 C41.3,-5.2 43.3,-2.8 43.3,0 C43.3,2.8 41.3,5.2 37.8,5.2 C34,5.2 32,2 29.5,0.85 L20,0.85 Z" fill="#2f50a6"/><g transform="rotate(0)"><rect x="20" y="-0.8" width="8" height="1.6" fill="#2f50a6"/><circle cx="29" cy="0" r="2.3" fill="#2f50a6"/></g><path transform="rotate(20)" d="M20,-0.85 L29.5,-0.85 C32,-2 34,-5.2 37.8,-5.2 C41.3,-5.2 43.3,-2.8 43.3,0 C43.3,2.8 41.3,5.2 37.8,5.2 C34,5.2 32,2 29.5,0.85 L20,0.85 Z" fill="#2f50a6"/><g transform="rotate(40)"><rect x="20" y="-0.8" width="8" height="1.6" fill="#2f50a6"/><circle cx="29" cy="0" r="2.3" fill="#2f50a6"/></g><path transform="rotate(60)" d="M20,-0.85 L29.5,-0.85 C32,-2 34,-5.2 37.8,-5.2 C41.3,-5.2 43.3,-2.8 43.3,0 C43.3,2.8 41.3,5.2 37.8,5.2 C34,5.2 32,2 29.5,0.85 L20,0.85 Z" fill="#2f50a6"/><g transform="rotate(80)"><rect x="20" y="-0.8" width="8" height="1.6" fill="#2f50a6"/><circle cx="29" cy="0" r="2.3" fill="#2f50a6"/></g><path transform="rotate(100)" d="M20,-0.85 L29.5,-0.85 C32,-2 34,-5.2 37.8,-5.2 C41.3,-5.2 43.3,-2.8 43.3,0 C43.3,2.8 41.3,5.2 37.8,5.2 C34,5.2 32,2 29.5,0.85 L20,0.85 Z" fill="#2f50a6"/><g transform="rotate(120)"><rect x="20" y="-0.8" width="8" height="1.6" fill="#2f50a6"/><circle cx="29" cy="0" r="2.3" fill="#2f50a6"/></g><path transform="rotate(140)" d="M20,-0.85 L29.5,-0.85 C32,-2 34,-5.2 37.8,-5.2 C41.3,-5.2 43.3,-2.8 43.3,0 C43.3,2.8 41.3,5.2 37.8,5.2 C34,5.2 32,2 29.5,0.85 L20,0.85 Z" fill="#2f50a6"/><g transform="rotate(160)"><rect x="20" y="-0.8" width="8" height="1.6" fill="#2f50a6"/><circle cx="29" cy="0" r="2.3" fill="#2f50a6"/></g><path transform="rotate(180)" d="M20,-0.85 L29.5,-0.85 C32,-2 34,-5.2 37.8,-5.2 C41.3,-5.2 43.3,-2.8 43.3,0 C43.3,2.8 41.3,5.2 37.8,5.2 C34,5.2 32,2 29.5,0.85 L20,0.85 Z" fill="#2f50a6"/><g transform="rotate(200)"><rect x="20" y="-0.8" width="8" height="1.6" fill="#2f50a6"/><circle cx="29" cy="0" r="2.3" fill="#2f50a6"/></g><path transform="rotate(220)" d="M20,-0.85 L29.5,-0.85 C32,-2 34,-5.2 37.8,-5.2 C41.3,-5.2 43.3,-2.8 43.3,0 C43.3,2.8 41.3,5.2 37.8,5.2 C34,5.2 32,2 29.5,0.85 L20,0.85 Z" fill="#2f50a6"/><g transform="rotate(240)"><rect x="20" y="-0.8" width="8" height="1.6" fill="#2f50a6"/><circle cx="29" cy="0" r="2.3" fill="#2f50a6"/></g><circle r="16.8" fill="none" stroke="#e4e4e4" stroke-width="8.8"/><circle r="21.2" fill="none" stroke="#c9c9c9" stroke-width="0.8" stroke-dasharray="3 1.5"/><circle r="12.4" fill="none" stroke="#c9c9c9" stroke-width="0.8" stroke-dasharray="3 1.5"/></g><g transform="translate(205.7,233.4)"><path transform="rotate(-100)" d="M20,-0.85 L29.5,-0.85 C32,-2 34,-5.2 37.8,-5.2 C41.3,-5.2 43.3,-2.8 43.3,0 C43.3,2.8 41.3,5.2 37.8,5.2 C34,5.2 32,2 29.5,0.85 L20,0.85 Z" fill="#c63b3f"/><g transform="rotate(-80)"><rect x="20" y="-0.8" width="8" height="1.6" fill="#c63b3f"/><circle cx="29" cy="0" r="2.3" fill="#c63b3f"/></g><path transform="rotate(-60)" d="M20,-0.85 L29.5,-0.85 C32,-2 34,-5.2 37.8,-5.2 C41.3,-5.2 43.3,-2.8 43.3,0 C43.3,2.8 41.3,5.2 37.8,5.2 C34,5.2 32,2 29.5,0.85 L20,0.85 Z" fill="#c63b3f"/><g transform="rotate(-40)"><rect x="20" y="-0.8" width="8" height="1.6" fill="#c63b3f"/><circle cx="29" cy="0" r="2.3" fill="#c63b3f"/></g><path transform="rotate(-20)" d="M20,-0.85 L29.5,-0.85 C32,-2 34,-5.2 37.8,-5.2 C41.3,-5.2 43.3,-2.8 43.3,0 C43.3,2.8 41.3,5.2 37.8,5.2 C34,5.2 32,2 29.5,0.85 L20,0.85 Z" fill="#c63b3f"/><g transform="rotate(0)"><rect x="20" y="-0.8" width="8" height="1.6" fill="#c63b3f"/><circle cx="29" cy="0" r="2.3" fill="#c63b3f"/></g><path transform="rotate(20)" d="M20,-0.85 L29.5,-0.85 C32,-2 34,-5.2 37.8,-5.2 C41.3,-5.2 43.3,-2.8 43.3,0 C43.3,2.8 41.3,5.2 37.8,5.2 C34,5.2 32,2 29.5,0.85 L20,0.85 Z" fill="#c63b3f"/><g transform="rotate(40)"><rect x="20" y="-0.8" width="8" height="1.6" fill="#c63b3f"/><circle cx="29" cy="0" r="2.3" fill="#c63b3f"/></g><path transform="rotate(60)" d="M20,-0.85 L29.5,-0.85 C32,-2 34,-5.2 37.8,-5.2 C41.3,-5.2 43.3,-2.8 43.3,0 C43.3,2.8 41.3,5.2 37.8,5.2 C34,5.2 32,2 29.5,0.85 L20,0.85 Z" fill="#c63b3f"/><g transform="rotate(80)"><rect x="20" y="-0.8" width="8" height="1.6" fill="#c63b3f"/><circle cx="29" cy="0" r="2.3" fill="#c63b3f"/></g><path transform="rotate(100)" d="M20,-0.85 L29.5,-0.85 C32,-2 34,-5.2 37.8,-5.2 C41.3,-5.2 43.3,-2.8 43.3,0 C43.3,2.8 41.3,5.2 37.8,5.2 C34,5.2 32,2 29.5,0.85 L20,0.85 Z" fill="#c63b3f"/><g transform="rotate(120)"><rect x="20" y="-0.8" width="8" height="1.6" fill="#c63b3f"/><circle cx="29" cy="0" r="2.3" fill="#c63b3f"/></g><path transform="rotate(140)" d="M20,-0.85 L29.5,-0.85 C32,-2 34,-5.2 37.8,-5.2 C41.3,-5.2 43.3,-2.8 43.3,0 C43.3,2.8 41.3,5.2 37.8,5.2 C34,5.2 32,2 29.5,0.85 L20,0.85 Z" fill="#c63b3f"/><g transform="rotate(160)"><rect x="20" y="-0.8" width="8" height="1.6" fill="#c63b3f"/><circle cx="29" cy="0" r="2.3" fill="#c63b3f"/></g><path transform="rotate(180)" d="M20,-0.85 L29.5,-0.85 C32,-2 34,-5.2 37.8,-5.2 C41.3,-5.2 43.3,-2.8 43.3,0 C43.3,2.8 41.3,5.2 37.8,5.2 C34,5.2 32,2 29.5,0.85 L20,0.85 Z" fill="#c63b3f"/><g transform="rotate(200)"><rect x="20" y="-0.8" width="8" height="1.6" fill="#c63b3f"/><circle cx="29" cy="0" r="2.3" fill="#c63b3f"/></g><path transform="rotate(220)" d="M20,-0.85 L29.5,-0.85 C32,-2 34,-5.2 37.8,-5.2 C41.3,-5.2 43.3,-2.8 43.3,0 C43.3,2.8 41.3,5.2 37.8,5.2 C34,5.2 32,2 29.5,0.85 L20,0.85 Z" fill="#c63b3f"/><g transform="rotate(240)"><rect x="20" y="-0.8" width="8" height="1.6" fill="#c63b3f"/><circle cx="29" cy="0" r="2.3" fill="#c63b3f"/></g><circle r="16.8" fill="none" stroke="#e4e4e4" stroke-width="8.8"/><circle r="21.2" fill="none" stroke="#c9c9c9" stroke-width="0.8" stroke-dasharray="3 1.5"/><circle r="12.4" fill="none" stroke="#c9c9c9" stroke-width="0.8" stroke-dasharray="3 1.5"/></g><g transform="translate(326,228.7) rotate(-11)"><rect x="-34" y="-10" width="68" height="20" rx="10" fill="#fff" stroke="#c4c4c4" stroke-width="3.4"/><rect x="-34" y="-10" width="68" height="20" rx="10" fill="none" stroke="#fff" stroke-width="0.9" stroke-dasharray="9 2.5"/><rect x="-34" y="-10" width="68" height="20" rx="10" fill="none" stroke="#fff" stroke-width="3.6" stroke-dasharray="0.1 0 0 9 2.2 0"/></g><path d="M297,226 Q292.98,220.34 285.71,217.22" fill="none" stroke="#1d8f3f" stroke-width="2.6"/><path d="M279,212 L289.88,213.49 L283.12,222.17 Z" fill="#1d8f3f"/><path d="M293,236.5 Q286.73,237.07 279.47,237.73" fill="none" stroke="#1d8f3f" stroke-width="2.6"/><path d="M271,238.5 L279.96,232.16 L280.96,243.12 Z" fill="#1d8f3f"/><path d="M299,243 Q294.36,248.02 290.8,254.98" fill="none" stroke="#1d8f3f" stroke-width="2.6"/><path d="M286,262 L286.83,251.05 L295.9,257.27 Z" fill="#1d8f3f"/><path d="M319,242 Q321.4,249.1 320.95,257.57" fill="none" stroke="#1d8f3f" stroke-width="2.6"/><path d="M322,266 L315.36,257.26 L326.28,255.89 Z" fill="#1d8f3f"/><path d="M338,238 Q339.71,244.53 343.65,251.19" fill="none" stroke="#1d8f3f" stroke-width="2.6"/><path d="M347,259 L338.2,252.43 L348.31,248.1 Z" fill="#1d8f3f"/><path d="M355,232 Q362.01,234.99 367.33,241.73" fill="none" stroke="#1d8f3f" stroke-width="2.6"/><path d="M374,247 L363.14,245.43 L369.95,236.8 Z" fill="#1d8f3f"/><path d="M358,221 Q364.11,221.36 370.65,218.59" fill="none" stroke="#1d8f3f" stroke-width="2.6"/><path d="M379,217 L370.7,224.18 L368.64,213.37 Z" fill="#1d8f3f"/><path d="M347,213 Q346.3,208.04 349.73,203.19" fill="none" stroke="#1d8f3f" stroke-width="2.6"/><path d="M352,195 L354.76,205.63 L344.16,202.68 Z" fill="#1d8f3f"/><path d="M328,216 Q328.24,210.72 327.42,204.49" fill="none" stroke="#1d8f3f" stroke-width="2.6"/><path d="M327,196 L332.97,205.21 L321.98,205.76 Z" fill="#1d8f3f"/><path d="M310,220 Q309.8,214.12 306.44,208.14" fill="none" stroke="#1d8f3f" stroke-width="2.6"/><path d="M304,200 L312,207.52 L301.46,210.68 Z" fill="#1d8f3f"/></g>
<g id="gr"><rect x="839" y="202.9" width="182" height="21.7" fill="#9aa6c9"/><rect x="1021" y="202.9" width="60" height="21.7" fill="#dbd0b9"/><rect x="1081" y="202.9" width="75" height="21.7" fill="#9aa6c9"/><circle cx="906.7" cy="248.4" r="8.3" fill="#9ba8cb"/><circle cx="923.7" cy="248.4" r="8.3" fill="#9ba8cb"/><circle cx="940.7" cy="248.4" r="8.3" fill="#9ba8cb"/><circle cx="957.7" cy="248.4" r="8.3" fill="#9ba8cb"/><circle cx="974.7" cy="248.4" r="8.3" fill="#9ba8cb"/><circle cx="991.7" cy="248.4" r="8.3" fill="#9ba8cb"/><circle cx="1008.7" cy="248.4" r="8.3" fill="#9ba8cb"/><circle cx="1025.7" cy="248.4" r="8.3" fill="#9ba8cb"/><circle cx="1042.7" cy="248.4" r="8.3" fill="#dbd0b9"/><circle cx="1059.7" cy="248.4" r="8.3" fill="#dbd0b9"/><circle cx="943.3" cy="268.3" r="8.3" fill="#9ba8cb"/><circle cx="960.35" cy="268.3" r="8.3" fill="#9ba8cb"/><circle cx="977.4" cy="268.3" r="8.3" fill="#9ba8cb"/><circle cx="994.45" cy="268.3" r="8.3" fill="#9ba8cb"/><circle cx="1011.5" cy="268.3" r="8.3" fill="#9ba8cb"/><circle cx="1028.55" cy="268.3" r="8.3" fill="#9ba8cb"/><circle cx="1045.6" cy="268.3" r="8.3" fill="#dbd0b9"/><circle cx="1062.65" cy="268.3" r="8.3" fill="#dbd0b9"/><circle cx="1079.7" cy="268.3" r="8.3" fill="#dbd0b9"/></g>
<g id="gleg"><circle cx="20.3" cy="577.7" r="14" fill="#f4cdac" stroke="#d0a888" stroke-width="0.8"/><circle cx="20.8" cy="576.5" r="10.2" fill="url(#gLegP)"/><circle cx="52" cy="577.5" r="14.6" fill="#b7bfdf" stroke="#66709a" stroke-width="0.9"/><circle cx="52" cy="577" r="10.6" fill="url(#gLegB)"/><circle cx="84.7" cy="577.5" r="14.1" fill="#d2ebcb" stroke="#6a826a" stroke-width="0.8"/><circle cx="84.7" cy="577.3" r="10.2" fill="url(#gLegG)"/><path d="M181.5,570 C181,574 178.8,578 178.8,584 C178.8,589 181,591.2 183.5,591.2 C186,591.2 188.2,589 188.2,584 C188.2,578 186,574 185.5,570 Z" fill="#e05a3c"/><circle cx="183.5" cy="567.4" r="3.2" fill="#e05a3c"/><circle cx="183.3" cy="567.2" r="1.3" fill="#f5a890"/><path d="M193,565.5 C193.5,569 195.5,572 196,574 L195.8,589 C195.8,591.3 200.2,591.3 200.2,589 L200,574 C200.5,572 202.5,569 203,565.5 C201.5,566.5 200,569 198,570 C196,569 194.5,566.5 193,565.5 Z" fill="#3aa5bb"/><g transform="translate(394,578) scale(1.05)"><g transform="rotate(0)"><rect x="6.5" y="-0.55" width="3.6" height="1.1" fill="#3e4a45"/><circle cx="11.3" cy="0" r="1.75" fill="#b4c8b8" stroke="#3e4a45" stroke-width="0.9"/></g><g transform="rotate(45)"><rect x="6.5" y="-0.55" width="3.6" height="1.1" fill="#3e4a45"/><circle cx="11.3" cy="0" r="1.75" fill="#b4c8b8" stroke="#3e4a45" stroke-width="0.9"/></g><g transform="rotate(90)"><rect x="6.5" y="-0.55" width="3.6" height="1.1" fill="#3e4a45"/><circle cx="11.3" cy="0" r="1.75" fill="#b4c8b8" stroke="#3e4a45" stroke-width="0.9"/></g><g transform="rotate(135)"><rect x="6.5" y="-0.55" width="3.6" height="1.1" fill="#3e4a45"/><circle cx="11.3" cy="0" r="1.75" fill="#b4c8b8" stroke="#3e4a45" stroke-width="0.9"/></g><g transform="rotate(180)"><rect x="6.5" y="-0.55" width="3.6" height="1.1" fill="#3e4a45"/><circle cx="11.3" cy="0" r="1.75" fill="#b4c8b8" stroke="#3e4a45" stroke-width="0.9"/></g><g transform="rotate(225)"><rect x="6.5" y="-0.55" width="3.6" height="1.1" fill="#3e4a45"/><circle cx="11.3" cy="0" r="1.75" fill="#b4c8b8" stroke="#3e4a45" stroke-width="0.9"/></g><g transform="rotate(270)"><rect x="6.5" y="-0.55" width="3.6" height="1.1" fill="#3e4a45"/><circle cx="11.3" cy="0" r="1.75" fill="#b4c8b8" stroke="#3e4a45" stroke-width="0.9"/></g><g transform="rotate(315)"><rect x="6.5" y="-0.55" width="3.6" height="1.1" fill="#3e4a45"/><circle cx="11.3" cy="0" r="1.75" fill="#b4c8b8" stroke="#3e4a45" stroke-width="0.9"/></g><circle r="6.8" fill="#fff" stroke="#3e4a45" stroke-width="2.4"/><circle r="6.8" fill="none" stroke="#74a882" stroke-width="1.1"/><path d="M-0.2,-3.9 C-3.2,-1.9 1.8,1.1 -1.3,3.9 M2.3,-3.9 C-0.6,-1.9 4.3,1.1 1.3,3.9" fill="none" stroke="#e23a32" stroke-width="1"/></g><ellipse cx="520.6" cy="581.2" rx="19.5" ry="15" transform="rotate(38 520.6 581.2)" fill="url(#gTum)"/><ellipse cx="519.4" cy="580" rx="7" ry="6" fill="#bcdce6"/><circle cx="636.5" cy="573" r="5" fill="url(#gAg)"/><path d="M644.5,575.5 L654.5,570 L653.5,580 Z" fill="#2a8aa8"/><circle cx="628.3" cy="583.7" r="2.4" fill="#f0d0dc" stroke="#b07a90" stroke-width="0.7"/><circle cx="643.2" cy="585.6" r="4.8" fill="#f0c8d0"/><circle cx="803.8" cy="580.2" r="3.1" fill="#5a70aa" stroke="#2a3560" stroke-width="0.7"/><circle cx="813.8" cy="575.6" r="3.1" fill="#5a70aa" stroke="#2a3560" stroke-width="0.7"/><circle cx="812.5" cy="585.1" r="3.1" fill="#5a70aa" stroke="#2a3560" stroke-width="0.7"/><circle cx="884.5" cy="582.4" r="3.1" fill="#f2c640" stroke="#7a6020" stroke-width="0.7"/><circle cx="891.5" cy="575.1" r="3.1" fill="#f2c640" stroke="#7a6020" stroke-width="0.7"/><circle cx="894.7" cy="583.9" r="3.1" fill="#f2c640" stroke="#7a6020" stroke-width="0.7"/><path d="M1009.5,571 C1007.53,569.12 1002.87,567.9 999.2,568.2 C995.53,568.5 990.45,570.25 987.5,572.8 C984.55,575.35 982,579.93 981.5,583.5 C981,587.07 982.58,592.12 984.5,594.2 C986.42,596.28 990.67,596.62 993,596 C995.33,595.38 996.67,592.58 998.5,590.5 C1000.33,588.42 1001.92,585.33 1004,583.5 C1006.08,581.67 1010.08,581.58 1011,579.5 C1011.92,577.42 1011.47,572.88 1009.5,571 Z" fill="#d9a2b0" stroke="#7a4a5a" stroke-width="0.9"/><ellipse cx="988" cy="588.5" rx="4.2" ry="3.2" transform="rotate(70 988 588.5)" fill="#ebc6cf" stroke="#8a5a6a" stroke-width="0.6"/><ellipse cx="989.8" cy="580" rx="4.4" ry="3.4" transform="rotate(40 989.8 580)" fill="#ebc6cf" stroke="#8a5a6a" stroke-width="0.6"/><ellipse cx="996.8" cy="574.6" rx="4.4" ry="3.4" transform="rotate(10 996.8 574.6)" fill="#ebc6cf" stroke="#8a5a6a" stroke-width="0.6"/><ellipse cx="1004.8" cy="575.2" rx="3.8" ry="3" transform="rotate(-20 1004.8 575.2)" fill="#ebc6cf" stroke="#8a5a6a" stroke-width="0.6"/><g transform="translate(1138,580.7)"><circle r="10.7" fill="#94606e"/><g transform="rotate(-104.55)"><path d="M5,0 Q14.56,-1.5 18.11,0" fill="none" stroke="#94606e" stroke-width="3.2" stroke-linecap="round"/><path d="M5,0 Q14.56,-1.5 18.11,0" fill="none" stroke="#eec2cc" stroke-width="1.9" stroke-linecap="round"/></g><g transform="rotate(-73.13)"><path d="M5,0 Q13.1,1.5 15.2,0" fill="none" stroke="#94606e" stroke-width="3.2" stroke-linecap="round"/><path d="M5,0 Q13.1,1.5 15.2,0" fill="none" stroke="#eec2cc" stroke-width="1.9" stroke-linecap="round"/></g><g transform="rotate(-51.74)"><path d="M5,0 Q14.04,-1.5 17.09,0" fill="none" stroke="#94606e" stroke-width="3.2" stroke-linecap="round"/><path d="M5,0 Q14.04,-1.5 17.09,0" fill="none" stroke="#eec2cc" stroke-width="1.9" stroke-linecap="round"/></g><g transform="rotate(-141.72)"><path d="M5,0 Q14.36,1.5 17.73,0" fill="none" stroke="#94606e" stroke-width="3.2" stroke-linecap="round"/><path d="M5,0 Q14.36,1.5 17.73,0" fill="none" stroke="#eec2cc" stroke-width="1.9" stroke-linecap="round"/></g><g transform="rotate(-12.79)"><path d="M5,0 Q15.61,-1.5 20.23,0" fill="none" stroke="#94606e" stroke-width="3.2" stroke-linecap="round"/><path d="M5,0 Q15.61,-1.5 20.23,0" fill="none" stroke="#eec2cc" stroke-width="1.9" stroke-linecap="round"/></g><g transform="rotate(21.74)"><path d="M5,0 Q14.31,1.5 17.63,0" fill="none" stroke="#94606e" stroke-width="3.2" stroke-linecap="round"/><path d="M5,0 Q14.31,1.5 17.63,0" fill="none" stroke="#eec2cc" stroke-width="1.9" stroke-linecap="round"/></g><g transform="rotate(58.88)"><path d="M5,0 Q14.58,-1.5 18.16,0" fill="none" stroke="#94606e" stroke-width="3.2" stroke-linecap="round"/><path d="M5,0 Q14.58,-1.5 18.16,0" fill="none" stroke="#eec2cc" stroke-width="1.9" stroke-linecap="round"/></g><g transform="rotate(98.36)"><path d="M5,0 Q13.94,1.5 16.89,0" fill="none" stroke="#94606e" stroke-width="3.2" stroke-linecap="round"/><path d="M5,0 Q13.94,1.5 16.89,0" fill="none" stroke="#eec2cc" stroke-width="1.9" stroke-linecap="round"/></g><g transform="rotate(140.71)"><path d="M5,0 Q14.24,-1.5 17.48,0" fill="none" stroke="#94606e" stroke-width="3.2" stroke-linecap="round"/><path d="M5,0 Q14.24,-1.5 17.48,0" fill="none" stroke="#eec2cc" stroke-width="1.9" stroke-linecap="round"/></g><g transform="rotate(158.85)"><path d="M5,0 Q14.01,1.5 17.01,0" fill="none" stroke="#94606e" stroke-width="3.2" stroke-linecap="round"/><path d="M5,0 Q14.01,1.5 17.01,0" fill="none" stroke="#eec2cc" stroke-width="1.9" stroke-linecap="round"/></g><g transform="rotate(-176.17)"><path d="M5,0 Q14.72,-1.5 18.44,0" fill="none" stroke="#94606e" stroke-width="3.2" stroke-linecap="round"/><path d="M5,0 Q14.72,-1.5 18.44,0" fill="none" stroke="#eec2cc" stroke-width="1.9" stroke-linecap="round"/></g><g transform="rotate(-154.59)"><path d="M5,0 Q11.64,1.5 12.28,0" fill="none" stroke="#94606e" stroke-width="3.2" stroke-linecap="round"/><path d="M5,0 Q11.64,1.5 12.28,0" fill="none" stroke="#eec2cc" stroke-width="1.9" stroke-linecap="round"/></g><circle r="10" fill="#eec2cc"/></g><circle cx="1138.5" cy="581" r="6.5" fill="#e6b0be" opacity="0.6"/></g>
<g id="texts">
<text x="129.4" y="57.9" font-size="23">H-T</text>
<text x="169.5" y="66.3" font-size="14">VAC</text>
<text x="201.8" y="58" font-size="24.5">platform</text>
<text x="107" y="169" font-size="18.07">Microbial-derived antigens</text>
<text x="132" y="300.5" font-size="16.7">Virus</text>
<text x="281.9" y="300.5" font-size="16.86">Bacteria</text>
<text x="96.8" y="381.4" font-size="18.05">Microbial derived antigens</text>
<text x="80" y="422.8" font-size="17">Clearly defined and conserved</text>
<text x="79" y="446.5" font-size="17">High immunogenicity</text>
<text x="79" y="472.8" font-size="17">Known epitopes</text>
<text x="78" y="496.5" font-size="17">Microbe-specific memory T</text>
<text x="77" y="516.3" font-size="17">surmount the TME</text>

<text x="456" y="33.4" font-size="16.3">HBsAg memory</text>
<text x="494.5" y="52.5" font-size="16.3">T cell</text>
<text x="652" y="33.4" font-size="16.3">Neoantigen</text>
<text x="641" y="52.5" font-size="16.3">specific T cell</text>
<text x="539" y="144.9" font-size="16.1">HBsAg</text>
<text x="539" y="161.9" font-size="15.75">epitopes</text>
<text x="662.3" y="154.3" font-size="14.67" style="fill:#2a2222">Mismatch</text>
<text x="586" y="215.3" font-size="28" style="fill:#e0173f">VS</text>
<text x="671.5" y="386.9" font-size="15.76">Tumour specific</text>
<text x="711" y="405.9" font-size="15.6">T cell</text>
<text x="451" y="528.1" font-size="15.7">Recruited DC</text>

<text x="839.5" y="58.2" font-size="24.33">Traditional tumour vaccine</text>
<text x="923.5" y="173.2" font-size="18.09">Tumour mutation</text>
<text x="881" y="302.2" font-size="17.13">Mutation derived neoantigens</text>
<text x="834.5" y="381.2" font-size="17.99">Tumour mutation derived neoantigens</text>
<text x="866" y="423.2" font-size="16.95">Heterogeneous and highly mutable</text>
<text x="868" y="450.3" font-size="16.8">Low immunogenicity</text>
<text x="867.5" y="474.8" font-size="16.95">Cumbersome neoantigens screening</text>
<text x="867" y="498" font-size="16.95">Exhausted T cells within the TME</text>

<text x="111.5" y="582.9" font-size="16.3">T cell</text>
<text x="209.6" y="586.9" font-size="16.3" style="fill:#2b2020">Immune checkpoints</text>
<text x="410.5" y="585.4" font-size="16.14">OV-HBsAg</text>
<text x="553" y="584.4" font-size="15.9">Tumour</text>
<text x="657" y="584.4" font-size="16">Tumour antigens</text>
<text x="826.5" y="585.1" font-size="16.6">IFN-γ</text>
<text x="909.5" y="586.4" font-size="16.26">GZMB</text>
<text x="1017.6" y="586.1" font-size="16.35">lymph node</text>
<text x="1167" y="586.7" font-size="16.4">DC</text>
</g>
<g id="bullets" fill="#111">
<circle cx="68" cy="417" r="2.6"/>
<circle cx="67.5" cy="440.7" r="2.6"/>
<circle cx="67.5" cy="466.2" r="2.6"/>
<circle cx="66.5" cy="490.7" r="2.6"/>
<circle cx="854.5" cy="417.4" r="2.6"/>
<circle cx="855.5" cy="444.5" r="2.6"/>
<circle cx="855.5" cy="469" r="2.6"/>
<circle cx="855.5" cy="492.2" r="2.6"/>
</g>

</svg>
</body></html>
